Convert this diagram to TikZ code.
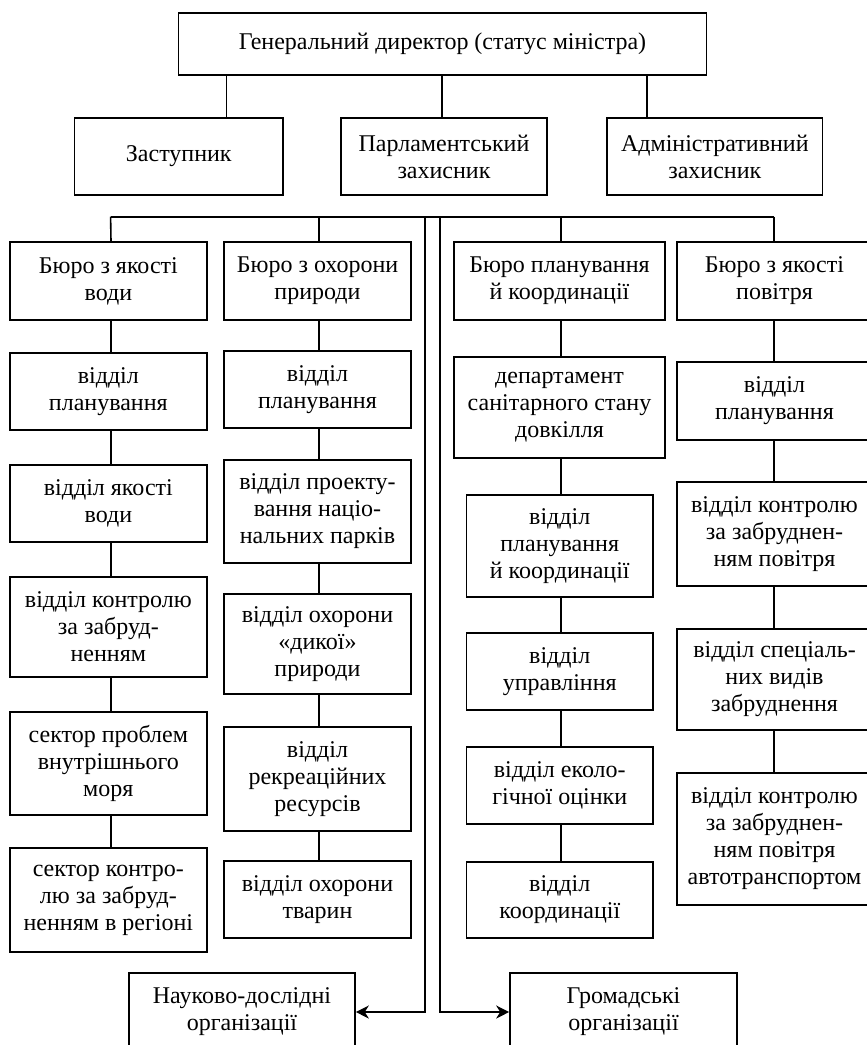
\documentclass[tikz,border=0pt]{standalone}
\usepackage{fontspec}
\setmainfont{Liberation Serif}
\usetikzlibrary{arrows.meta}
\newcommand{\mybox}[6]{\node[bx, minimum width={#4-#2}, minimum height={#5-#3}] (#1) at ({(#2+#4)/2},{(#3+#5)/2}) {#6};}
\begin{document}
\begin{tikzpicture}[x=1pt,y=-1pt,
  bx/.style={draw, line width=1.6pt, align=center, inner sep=0pt, font=\fontsize{24}{27}\selectfont},
  ln/.style={line width=1.6pt},
  arr/.style={line width=1.6pt, -{Stealth[length=13pt,width=13pt,inset=4pt]}}
]
\useasboundingbox (0,0) rectangle (867,1045);
% top levels
\mybox{G}{178.5}{13}{706.5}{75}{Генеральний директор (статус міністра)}
\mybox{Z}{74.6}{118}{283}{195}{Заступник}
\mybox{P}{341}{118}{547}{195}{Парламентський\\захисник}
\mybox{A}{607}{118}{822.6}{195}{Адміністративний\\захисник}
\coordinate (tz) at (226.6,0);
\coordinate (tp) at (442,0);
\coordinate (ta) at (647,0);
\draw[ln] (G.south -| tz) -- (Z.north -| tz);
\draw[ln] (G.south -| tp) -- (P.north -| tp);
\draw[ln] (G.south -| ta) -- (A.north -| ta);
% bus
\coordinate (busL) at (110.6,216.7);
\coordinate (busR) at (774,216.7);
\draw[ln] (busL) -- (busR);
% column 1
\mybox{a1}{10}{242}{206.7}{320}{Бюро з якості\\води}
\mybox{a2}{10}{353}{206.7}{430}{відділ\\планування}
\mybox{a3}{10}{465}{206.7}{542}{відділ якості\\води}
\mybox{a4}{10}{577}{206.7}{677}{відділ контролю\\за забруд-\\ненням}
\mybox{a5}{10}{712}{206.7}{815}{сектор проблем\\внутрішнього\\моря}
\mybox{a6}{10}{848}{206.7}{952}{сектор контро-\\лю за забруд-\\ненням в регіоні}
% column 2
\mybox{b1}{224}{242}{411}{320}{Бюро з охорони\\природи}
\mybox{b2}{224}{351}{411}{428}{відділ\\планування}
\mybox{b3}{224}{460}{411}{563}{відділ проекту-\\вання націо-\\нальних парків}
\mybox{b4}{224}{594}{411}{694}{відділ охорони\\«дикої»\\природи}
\mybox{b5}{224}{727}{411}{831}{відділ\\рекреаційних\\ресурсів}
\mybox{b6}{224}{861}{411}{938}{відділ охорони\\тварин}
% column 3
\mybox{c1}{454}{242}{665}{320}{Бюро планування\\й координації}
\mybox{c2}{454}{357}{665}{458}{департамент\\санітарного стану\\довкілля}
\mybox{c3}{466.5}{495}{653}{597}{відділ\\планування\\й координації}
\mybox{c4}{466.5}{633}{653}{710}{відділ\\управління}
\mybox{c5}{466.5}{747}{653}{824}{відділ еколо-\\гічної оцінки}
\mybox{c6}{466.5}{862}{653}{938}{відділ\\координації}
% column 4
\mybox{d1}{677}{242}{872}{320}{Бюро з якості\\повітря}
\mybox{d2}{677}{362}{872}{440}{відділ\\планування}
\mybox{d3}{677}{482}{872}{586}{відділ контролю\\за забруднен-\\ням повітря}
\mybox{d4}{677}{629}{872}{730}{відділ спеціаль-\\них видів\\забруднення}
\mybox{d5}{677}{773}{872}{905}{відділ контролю\\за забруднен-\\ням повітря\\автотранспортом}
% bottom
\mybox{N}{129}{973}{355}{1051}{Науково-дослідні\\організації}
\mybox{R}{510}{973}{737}{1051}{Громадські\\організації}
% column connectors
\coordinate (xa) at (111,0);
\coordinate (xb) at (319,0);
\coordinate (xc) at (561,0);
\coordinate (xd) at (774,0);
\draw[ln] (busL) -- (a1.north -| xa);
\draw[ln] (busL -| xb) -- (b1.north -| xb);
\draw[ln] (busL -| xc) -- (c1.north -| xc);
\draw[ln] (busR) -- (d1.north -| xd);
\foreach \p/\q in {a1/a2,a2/a3,a3/a4,a4/a5,a5/a6}{\draw[ln] (\p.south -| xa) -- (\q.north -| xa);}
\foreach \p/\q in {b1/b2,b2/b3,b3/b4,b4/b5,b5/b6}{\draw[ln] (\p.south -| xb) -- (\q.north -| xb);}
\foreach \p/\q in {c1/c2,c2/c3,c3/c4,c4/c5,c5/c6}{\draw[ln] (\p.south -| xc) -- (\q.north -| xc);}
\foreach \p/\q in {d1/d2,d2/d3,d3/d4,d4/d5}{\draw[ln] (\p.south -| xd) -- (\q.north -| xd);}
% double trunk with arrows
\coordinate (vl) at (425,216.7);
\coordinate (vr) at (440,216.7);
\draw[arr] (vl) |- (N.east);
\draw[arr] (vr) |- (R.west);
\end{tikzpicture}
\end{document}
